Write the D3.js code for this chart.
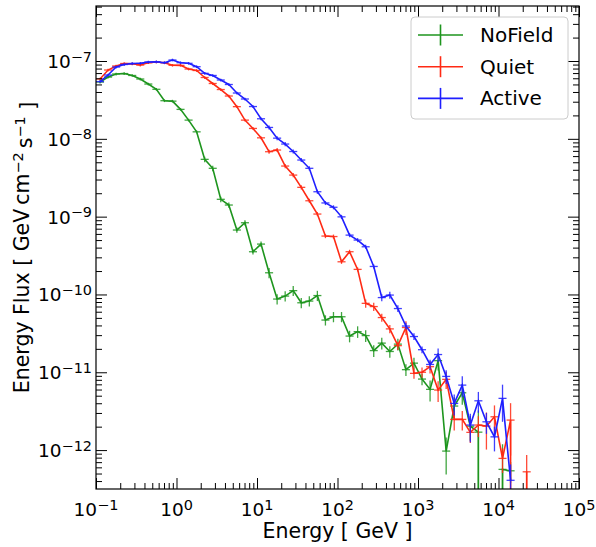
<!DOCTYPE html>
<html lang="en">
<head>
<meta charset="UTF-8">
<title>Energy flux</title>
<script src="https://cdn.jsdelivr.net/npm/d3@7"></script>
<style>
    body { margin: 0; background: #fff; }
    svg text { font-family: "DejaVu Sans", sans-serif; fill: #000; }
</style>
</head>
<body>
<svg width="596" height="547"></svg>
<script>
    // bin centres (log10 of energy in GeV), bins are 0.1 dex wide
    var energyLog = [-0.95, -0.85, -0.75, -0.65, -0.55, -0.45, -0.35, -0.25, -0.15, -0.05,
        0.05, 0.15, 0.25, 0.35, 0.45, 0.55, 0.65, 0.75, 0.85, 0.95,
        1.05, 1.15, 1.25, 1.35, 1.45, 1.55, 1.65, 1.75, 1.85, 1.95,
        2.05, 2.15, 2.25, 2.35, 2.45, 2.55, 2.65, 2.75, 2.85, 2.95,
        3.05, 3.15, 3.25, 3.35, 3.45, 3.55, 3.65, 3.75, 3.85, 3.95,
        4.05, 4.15, 4.25, 4.35]
    var binHalf = 0.05

    // energy flux [GeV cm^-2 s^-1], 0 = empty bin
    var noField = [5.37e-8, 6.22e-8, 6.81e-8, 6.90e-8, 6.52e-8, 5.87e-8, 5.06e-8, 4.33e-8, 3.09e-8, 3.05e-8,
        2.39e-8, 1.74e-8, 1.23e-8, 5.45e-9, 4.18e-9, 1.67e-9, 1.41e-9, 6.73e-10, 8.35e-10, 3.54e-10,
        4.44e-10, 1.90e-10, 8.73e-11, 9.53e-11, 1.12e-10, 7.82e-11, 8.22e-11, 9.68e-11, 4.69e-11, 5.17e-11,
        5.17e-11, 2.92e-11, 3.33e-11, 2.96e-11, 1.90e-11, 2.37e-11, 1.85e-11, 2.30e-11, 1.08e-11, 1.31e-11,
        8.18e-12, 6.03e-12, 1.41e-11, 9.71e-13, 3.68e-12, 5.45e-12, 2.03e-12, 1.70e-12, 0, 0,
        5.65e-13, 5.42e-13]
    var quiet = [5.87e-8, 7.66e-8, 8.63e-8, 9.29e-8, 9.20e-8, 8.88e-8, 9.51e-8, 9.71e-8, 9.51e-8, 8.81e-8,
        8.80e-8, 7.89e-8, 7.55e-8, 6.14e-8, 5.14e-8, 4.30e-8, 3.55e-8, 2.59e-8, 1.74e-8, 1.36e-8,
        1.03e-8, 6.83e-9, 7.18e-9, 4.47e-9, 3.42e-9, 2.38e-9, 1.60e-9, 1.08e-9, 5.63e-10, 5.55e-10,
        2.63e-10, 3.54e-10, 2.10e-10, 7.69e-11, 6.99e-11, 5.05e-11, 3.61e-11, 2.20e-11, 3.76e-11, 9.68e-12,
        1.00e-11, 1.18e-11, 5.91e-12, 8.11e-12, 2.48e-12, 2.48e-12, 1.69e-12, 2.10e-12, 2.03e-12, 2.68e-12,
        7.82e-13, 2.43e-12, 0, 5.26e-13]
    var active = [5.44e-8, 6.61e-8, 8.37e-8, 9.02e-8, 9.29e-8, 9.34e-8, 9.71e-8, 9.77e-8, 9.51e-8, 1.03e-7,
        9.51e-8, 9.34e-8, 8.45e-8, 6.95e-8, 6.52e-8, 5.70e-8, 4.99e-8, 3.88e-8, 3.25e-8, 2.60e-8,
        1.81e-8, 1.40e-8, 1.02e-8, 8.57e-9, 6.87e-9, 5.34e-9, 4.18e-9, 2.09e-9, 1.50e-9, 1.32e-9,
        9.94e-10, 5.79e-10, 5.00e-10, 4.10e-10, 2.29e-10, 9.12e-11, 9.82e-11, 6.59e-11, 3.93e-11, 2.88e-11,
        1.95e-11, 1.26e-11, 1.69e-11, 8.85e-12, 3.98e-12, 6.84e-12, 2.10e-12, 4.30e-12, 2.31e-12, 1.48e-12,
        4.62e-12, 4.09e-13]

    // relative (1 sigma) errors on the flux
    var noFieldErr = [0.04, 0.04, 0.04, 0.04, 0.04, 0.04, 0.04, 0.04, 0.04, 0.04,
        0.04, 0.04, 0.04, 0.08, 0.08, 0.08, 0.08, 0.08, 0.08, 0.08,
        0.08, 0.15, 0.15, 0.15, 0.15, 0.15, 0.15, 0.15, 0.15, 0.15,
        0.15, 0.17, 0.17, 0.17, 0.17, 0.17, 0.17, 0.17, 0.17, 0.17,
        0.17, 0.3, 0.25, 0.5, 0.3, 0.3, 0.35, 0.9, 0, 0,
        1.1, 0.3]
    var quietErr = [0.04, 0.04, 0.04, 0.04, 0.04, 0.04, 0.04, 0.04, 0.04, 0.04,
        0.04, 0.04, 0.04, 0.04, 0.04, 0.04, 0.04, 0.04, 0.04, 0.04,
        0.04, 0.06, 0.06, 0.06, 0.06, 0.06, 0.06, 0.06, 0.06, 0.06,
        0.06, 0.06, 0.06, 0.12, 0.12, 0.12, 0.12, 0.12, 0.2, 0.15,
        0.15, 0.18, 0.3, 0.25, 0.28, 0.28, 0.27, 0.3, 0.5, 0.4,
        0.35, 0.65, 0, 0.65]
    var activeErr = [0.04, 0.04, 0.04, 0.04, 0.04, 0.04, 0.04, 0.04, 0.04, 0.04,
        0.04, 0.04, 0.04, 0.04, 0.04, 0.04, 0.04, 0.04, 0.04, 0.04,
        0.04, 0.06, 0.06, 0.06, 0.06, 0.06, 0.06, 0.06, 0.06, 0.06,
        0.06, 0.06, 0.06, 0.06, 0.06, 0.1, 0.1, 0.1, 0.1, 0.1,
        0.1, 0.15, 0.2, 0.2, 0.3, 0.3, 0.4, 0.3, 0.3, 0.35,
        0.5, 0.6]

    var seriesNames = ["NoField", "Quiet", "Active"]
    var seriesColors = ["#1e951e", "#ff2a14", "#1f1fff"]

    var xDecades = [-1, 0, 1, 2, 3, 4, 5]
    var yDecades = [-12, -11, -10, -9, -8, -7]

    var svg = d3.select("svg")
    var plot = {left: 96, right: 579, top: 6, bottom: 489}

    var x = d3.scaleLog().domain([1e-1, 1e5]).range([plot.left, plot.right])
    var y = d3.scaleLog().domain([Math.pow(10, -12.5), Math.pow(10, -6.293)]).range([plot.bottom, plot.top])

    // like matplotlib: non-positive values are clipped to a tiny number
    function clipLow(v) { return v > 0 ? v : 1e-300 }

    function minors(lo, hi, domain) {
        var out = []
        for (var d = lo; d <= hi; d++) {
            for (var k = 2; k <= 9; k++) {
                var v = k * Math.pow(10, d)
                if (v > domain[0] && v < domain[1]) out.push(v)
            }
        }
        return out
    }
    var xMajor = xDecades.map(d => Math.pow(10, d))
    var yMajor = yDecades.map(d => Math.pow(10, d))
    var xMinor = minors(-1, 4, x.domain())
    var yMinor = minors(-13, -7, y.domain())

    // ---- data ----
    svg.append("clipPath").attr("id", "clip").append("rect")
        .attr("x", plot.left).attr("y", plot.top)
        .attr("width", plot.right - plot.left).attr("height", plot.bottom - plot.top)

    var dataG = svg.append("g").attr("clip-path", "url(#clip)")
    var fluxes = [noField, quiet, active]
    var errs = [noFieldErr, quietErr, activeErr]

    var line = d3.line().x(d => x(d.e)).y(d => y(clipLow(d.f)))

    fluxes.forEach(function (flux, s) {
        var pts = flux.map(function (f, i) {
            return {e: Math.pow(10, energyLog[i]), le: energyLog[i], f: f, r: errs[s][i]}
        })
        var g = dataG.append("g").attr("stroke", seriesColors[s]).attr("fill", "none")
        g.append("path").attr("d", line(pts)).attr("stroke-width", 1.6)

        var eb = g.append("g").attr("stroke-width", 1.3).attr("stroke-opacity", 0.85)
        var good = pts.filter(d => d.f > 0)
        eb.selectAll(".xe").data(good).enter().append("line")
            .attr("x1", d => x(Math.pow(10, d.le - binHalf)))
            .attr("x2", d => x(Math.pow(10, d.le + binHalf)))
            .attr("y1", d => y(d.f)).attr("y2", d => y(d.f))
        eb.selectAll(".ye").data(good).enter().append("line")
            .attr("x1", d => x(d.e)).attr("x2", d => x(d.e))
            .attr("y1", d => y(d.f * (1 + d.r)))
            .attr("y2", d => y(clipLow(d.f * (1 - d.r))))
    })

    // ---- axes: ticks point inwards on all four sides ----
    var majorLen = 11, minorLen = 6
    var axG = svg.append("g")
    function ticks(axis, vals, len, tr) {
        var g = axG.append("g").attr("transform", tr)
            .call(axis.tickValues(vals).tickSizeInner(-len).tickSizeOuter(0).tickFormat(""))
        g.select(".domain").remove()
        g.selectAll("line").attr("stroke", "#000").attr("stroke-width", 1)
    }
    ticks(d3.axisBottom(x), xMajor, majorLen, `translate(0,${plot.bottom})`)
    ticks(d3.axisBottom(x), xMinor, minorLen, `translate(0,${plot.bottom})`)
    ticks(d3.axisTop(x), xMajor, majorLen, `translate(0,${plot.top})`)
    ticks(d3.axisTop(x), xMinor, minorLen, `translate(0,${plot.top})`)
    ticks(d3.axisLeft(y), yMajor, majorLen, `translate(${plot.left},0)`)
    ticks(d3.axisLeft(y), yMinor, minorLen, `translate(${plot.left},0)`)
    ticks(d3.axisRight(y), yMajor, majorLen, `translate(${plot.right},0)`)
    ticks(d3.axisRight(y), yMinor, minorLen, `translate(${plot.right},0)`)

    svg.append("rect")
        .attr("x", plot.left).attr("y", plot.top)
        .attr("width", plot.right - plot.left).attr("height", plot.bottom - plot.top)
        .attr("fill", "none").attr("stroke", "#000").attr("stroke-width", 1.2)

    // tick labels 10^n
    function powLabel(t, n) {
        t.append("tspan").text("10")
        t.append("tspan").attr("dy", "-0.45em").attr("font-size", "0.78em")
            .text(n < 0 ? "\u2212" + (-n) : String(n))
    }
    xDecades.forEach(function (d) {
        var t = svg.append("text").attr("x", x(Math.pow(10, d))).attr("y", plot.bottom + 27)
            .attr("text-anchor", "middle").attr("font-size", 18.5)
        powLabel(t, d)
    })
    yDecades.forEach(function (d) {
        var t = svg.append("text").attr("x", plot.left - 4).attr("y", y(Math.pow(10, d)) + 7)
            .attr("text-anchor", "end").attr("font-size", 18.5)
        powLabel(t, d)
    })

    // axis titles
    svg.append("text").attr("x", (plot.left + plot.right) / 2).attr("y", 538)
        .attr("text-anchor", "middle").attr("font-size", 20.5).text("Energy [ GeV ]")

    var yl = svg.append("text").attr("transform", `translate(29,${(plot.top + plot.bottom) / 2}) rotate(-90)`)
        .attr("text-anchor", "middle").attr("font-size", 20.5)
    yl.append("tspan").text("Energy Flux [ GeV\u2009cm")
    yl.append("tspan").attr("dy", "-0.45em").attr("font-size", "0.7em").text("\u22122")
    yl.append("tspan").attr("dy", "0.45em").text("\u2009s")
    yl.append("tspan").attr("dy", "-0.45em").attr("font-size", "0.7em").text("\u22121")
    yl.append("tspan").attr("dy", "0.45em").text(" ]")

    // ---- legend ----
    var lg = svg.append("g").attr("transform", "translate(411,17)")
    lg.append("rect").attr("width", 157).attr("height", 102).attr("rx", 4)
        .attr("fill", "#fff").attr("fill-opacity", 0.8).attr("stroke", "#cccccc")
    seriesNames.forEach(function (name, i) {
        var cy = 18 + i * 31.7
        var row = lg.append("g").attr("stroke", seriesColors[i]).attr("stroke-width", 1.6)
        row.append("line").attr("x1", 7).attr("x2", 52).attr("y1", cy).attr("y2", cy)
        row.append("line").attr("x1", 29.5).attr("x2", 29.5).attr("y1", cy - 10.5).attr("y2", cy + 10.5)
        lg.append("text").attr("x", 69).attr("y", cy + 7).attr("font-size", 20).text(name)
    })
</script>
</body>
</html>
